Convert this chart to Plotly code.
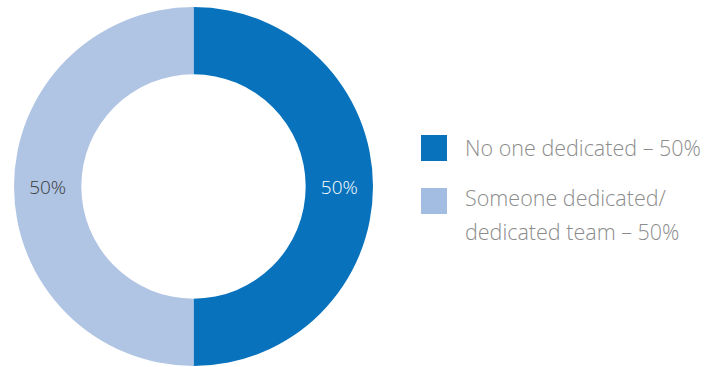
import plotly.graph_objects as go

labels = ["No one dedicated", "Someone dedicated/<br>dedicated team"]
values = [50, 50]
slice_colors = ["#0872BD", "#B0C4E4"]
legend_colors = ["#0872BD", "#A3BCE2"]
text_colors = ["#FFFFFF", "#3A3A3A"]

W, H = 717, 367

fig = go.Figure()
fig.add_trace(go.Pie(
    labels=labels,
    values=values,
    hole=0.625,
    sort=False,
    direction="clockwise",
    rotation=0,
    marker=dict(colors=slice_colors, line=dict(width=0)),
    textinfo="percent",
    textposition="inside",
    insidetextorientation="horizontal",
    textfont=dict(family="Open Sans", size=19, color=text_colors, weight=300),
    showlegend=False,
    domain=dict(x=[14 / W, 373 / W], y=[1 / H, 1 - 7 / H]),
))

# custom legend
box_y = [148, 201]
line_y = [[148], [197, 231]]
for i, (lab, v) in enumerate(zip(labels, values)):
    yc = box_y[i]
    fig.add_shape(type="rect", xref="paper", yref="paper",
                  x0=421 / W, x1=447 / W,
                  y0=1 - (yc + 13) / H, y1=1 - (yc - 13) / H,
                  fillcolor=legend_colors[i], line=dict(width=0))
    parts = f"{lab} – {v}%".split("<br>")
    for part, ly in zip(parts, line_y[i]):
        fig.add_annotation(xref="paper", yref="paper", x=463 / W,
                           y=1 - ly / H, xanchor="left", yanchor="middle",
                           text=part, showarrow=False, align="left",
                           font=dict(family="Open Sans", size=21.5, color="#8C8C8C",
                                     weight=300))

fig.update_layout(
    width=W, height=H,
    margin=dict(l=0, r=0, t=0, b=0),
    paper_bgcolor="white", plot_bgcolor="white",
)

fig.write_html("out.html")
